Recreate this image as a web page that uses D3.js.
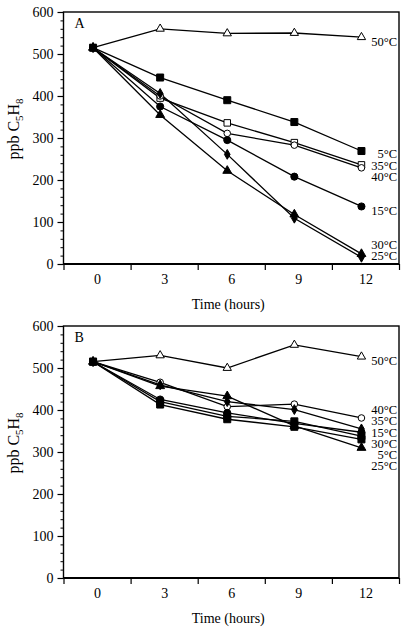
<!DOCTYPE html>
<html><head><meta charset="utf-8">
<script src="https://cdn.jsdelivr.net/npm/d3@7"></script>
<style>
html,body{margin:0;padding:0;background:#fff;}
svg{display:block;}
svg text{font-family:"Times New Roman","Liberation Serif",Tinos,Times,serif;}
</style></head>
<body><svg id="chart" width="408" height="630"></svg>
<script>
// ---- data ----
const hours = [0, 3, 6, 9, 12];
const yTicks = [0, 100, 200, 300, 400, 500, 600];

const tempsA = ["50°C", "5°C", "35°C", "40°C", "15°C", "30°C", "25°C"];
const symbolsA = ["triangle-open", "square", "square-open", "circle-open", "circle", "triangle", "diamond"];
const valuesA_50 = [515, 560, 549, 550, 540];
const valuesA_5  = [515, 444, 390, 338, 269];
const valuesA_35 = [515, 395, 336, 289, 236];
const valuesA_40 = [515, 400, 311, 283, 229];
const valuesA_15 = [515, 375, 295, 208, 137];
const valuesA_30 = [515, 355, 222, 118, 24];
const valuesA_25 = [515, 406, 261, 109, 16];

const tempsB = ["50°C", "40°C", "35°C", "15°C", "30°C", "5°C", "25°C"];
const symbolsB = ["triangle-open", "circle-open", "diamond", "circle", "square", "square", "triangle"];
const valuesB_50 = [515, 530, 500, 555, 527];
const valuesB_40 = [515, 466, 408, 414, 381];
const valuesB_35 = [515, 460, 420, 401, 355];
const valuesB_15 = [515, 425, 393, 368, 347];
const valuesB_30 = [515, 420, 385, 373, 338];
const valuesB_5  = [515, 413, 378, 360, 330];
const valuesB_25 = [515, 457, 433, 362, 310];

const panels = [
  {tag: "A", top: 12, bottom: 264, temps: tempsA, symbols: symbolsA,
   values: [valuesA_50, valuesA_5, valuesA_35, valuesA_40, valuesA_15, valuesA_30, valuesA_25], gap: 11.5},
  {tag: "B", top: 326, bottom: 578, temps: tempsB, symbols: symbolsB,
   values: [valuesB_50, valuesB_40, valuesB_35, valuesB_15, valuesB_30, valuesB_5, valuesB_25], gap: 11.2}
];

// ---- drawing ----
const FONT = '"Times New Roman","Liberation Serif",Tinos,Times,serif';
const svg = d3.select("#chart");
const left = 63.5, right = 399;
const x = d3.scaleLinear().domain([-1.5, 13.5]).range([left, right]);
const markShift = -4;

const symType = {
  "square": d3.symbolSquare, "square-open": d3.symbolSquare,
  "circle": d3.symbolCircle, "circle-open": d3.symbolCircle,
  "triangle": d3.symbolTriangle, "triangle-open": d3.symbolTriangle,
  "diamond": d3.symbolDiamond
};
const symSize = {
  "square": 49, "square-open": 42, "circle": 40, "circle-open": 34,
  "triangle": 34, "triangle-open": 30, "diamond": 28
};

function spread(items, gap, maxY) {
  items.sort((a, b) => a.ideal - b.ideal);
  let clusters = items.map(it => ({items: [it], y: it.ideal}));
  let changed = true;
  while (changed) {
    changed = false;
    for (let i = 0; i < clusters.length - 1; i++) {
      const a = clusters[i], b = clusters[i + 1];
      const aB = a.y + (a.items.length - 1) * gap / 2;
      const bT = b.y - (b.items.length - 1) * gap / 2;
      if (bT - aB < gap) {
        const its = a.items.concat(b.items);
        clusters.splice(i, 2, {items: its, y: d3.mean(its, d => d.ideal)});
        changed = true; break;
      }
    }
  }
  clusters.forEach(c => c.items.forEach((it, k) => it.y = c.y + (k - (c.items.length - 1) / 2) * gap));
  for (let i = items.length - 1; i >= 0; i--) {
    const lim = i === items.length - 1 ? maxY : items[i + 1].y - gap;
    if (items[i].y > lim) items[i].y = lim;
  }
  return items;
}

panels.forEach(p => {
  const y = d3.scaleLinear().domain([0, 600]).range([p.bottom, p.top]);
  const g = svg.append("g");

  // minor y ticks
  g.append("g").attr("transform", `translate(${left},0)`)
    .call(d3.axisLeft(y).tickValues(d3.range(0, 601, 20).filter(v => v % 100 !== 0)).tickSize(3).tickFormat(""))
    .call(a => a.select(".domain").remove())
    .call(a => a.selectAll("line").attr("stroke", "#000").attr("stroke-width", 1));
  // major y ticks
  g.append("g").attr("transform", `translate(${left},0)`)
    .call(d3.axisLeft(y).tickValues(yTicks).tickSize(6).tickPadding(4))
    .call(a => a.select(".domain").remove())
    .call(a => a.selectAll("line").attr("stroke", "#000").attr("stroke-width", 1.2))
    .call(a => a.selectAll("text").attr("font-size", 14).attr("font-family", FONT).attr("fill", "#000"));

  // x boundary ticks
  g.append("g").attr("transform", `translate(0,${p.bottom})`)
    .call(d3.axisBottom(x).tickValues(d3.range(-1.5, 13.6, 3)).tickSize(6).tickFormat(""))
    .call(a => a.select(".domain").remove())
    .call(a => a.selectAll("line").attr("stroke", "#000").attr("stroke-width", 1.2));
  // x labels
  g.append("g").attr("transform", `translate(0,${p.bottom})`)
    .call(d3.axisBottom(x).tickValues(hours).tickSize(0).tickPadding(10))
    .call(a => a.select(".domain").remove())
    .call(a => a.selectAll("text").attr("font-size", 14).attr("font-family", FONT).attr("fill", "#000"));

  // frame
  g.append("rect").attr("x", left).attr("y", p.top).attr("width", right - left).attr("height", p.bottom - p.top)
    .attr("fill", "none").attr("stroke", "#000").attr("stroke-width", 1.4);
  g.append("line").attr("x1", left).attr("x2", right).attr("y1", p.bottom).attr("y2", p.bottom)
    .attr("stroke", "#000").attr("stroke-width", 2);

  // panel tag
  g.append("text").attr("x", left + 11).attr("y", p.top + 16).attr("font-size", 14).text(p.tag);

  // axis titles
  g.append("text").attr("x", (left + right) / 2 - 3).attr("y", p.bottom + 45)
    .attr("text-anchor", "middle").attr("font-size", 14).text("Time (hours)");
  const yt = g.append("text")
    .attr("transform", `translate(19,${(p.top + p.bottom) / 2 - 9}) rotate(-90)`)
    .attr("text-anchor", "middle").attr("font-size", 16);
  yt.append("tspan").text("ppb C");
  yt.append("tspan").attr("font-size", 11).attr("dy", 4).text("5");
  yt.append("tspan").attr("dy", -4).text("H");
  yt.append("tspan").attr("font-size", 11).attr("dy", 4).text("8");

  // series
  const series = p.temps.map((t, i) => ({temp: t, sym: p.symbols[i], values: p.values[i]}));
  const line = d3.line().x((d, i) => x(hours[i]) + markShift).y(d => y(d));
  g.append("g").selectAll("path").data(series).join("path")
    .attr("d", s => line(s.values)).attr("fill", "none").attr("stroke", "#000").attr("stroke-width", 1.3);

  const mg = g.append("g");
  series.forEach(s => {
    const open = s.sym.endsWith("-open");
    mg.selectAll(null).data(s.values).join("path")
      .attr("transform", (d, i) => `translate(${x(hours[i]) + markShift},${y(d)})`)
      .attr("d", d3.symbol().type(symType[s.sym]).size(symSize[s.sym]))
      .attr("fill", open ? "#fff" : "#000").attr("stroke", "#000").attr("stroke-width", 1);
  });

  // labels
  const items = series.map(s => ({temp: s.temp, ideal: y(s.values[s.values.length - 1]) + 4}));
  spread(items, p.gap, p.bottom - 8);
  g.append("g").selectAll("text").data(items).join("text")
    .attr("x", right - 2).attr("y", d => d.y).attr("dy", "0.35em")
    .attr("text-anchor", "end").attr("font-size", 12.5).text(d => d.temp);
});
</script></body></html>
